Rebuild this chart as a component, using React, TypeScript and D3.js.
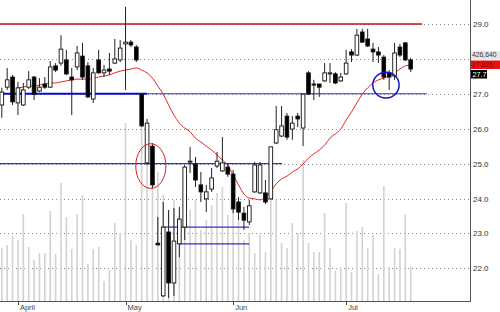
import React from "react";
import * as d3 from "d3";

// ---- data (daily bars, index 0..76) ----
const openP = [26.68,27.19,27.48,26.74,26.68,27.19,27.48,27.08,27.28,27.19, 27.80,27.88,27.97,27.48,27.77,28.08,27.80,26.85,27.97,27.60, 27.71,27.88,27.97,28.43,28.48,28.34,26.99,25.02,25.50,22.72, 21.21,23.04,21.58,22.70,23.18,25.05,24.99,24.39,23.99,24.27, 24.93,24.79,24.90,24.70,23.90,23.58,23.33,24.19,24.16,24.16, 23.99,25.59,25.79,26.36,25.99,26.36,26.02,27.60,27.28,27.28, 27.37,27.57,27.57,27.37,27.57,28.20,28.11,28.77,28.57,28.28, 28.20,28.05,27.60,27.51,28.34,28.46,27.97];
const highP = [27.17,27.74,27.54,27.34,27.31,27.65,27.51,27.45,27.48,27.94, 27.88,28.68,28.26,27.74,28.37,28.46,27.91,27.74,28.26,27.83, 28.17,28.57,28.54,29.49,28.54,28.40,27.02,26.28,25.59,23.47, 23.90,23.67,23.73,23.76,24.96,25.48,25.19,24.76,24.39,24.87, 25.33,25.76,25.02,24.82,24.04,23.76,23.96,25.05,25.05,24.53, 25.48,26.65,26.65,26.45,26.36,26.45,26.99,27.65,27.40,27.28, 27.88,27.88,27.62,27.60,28.26,28.28,28.86,28.86,28.86,28.46, 28.34,28.11,27.68,28.46,28.43,28.48,28.03];
const lowP = [26.31,27.11,26.68,26.39,26.65,27.14,26.82,27.05,27.14,27.17, 27.62,27.80,27.54,26.39,27.68,27.40,26.88,26.74,27.57,27.48, 27.54,27.85,27.91,27.11,28.34,27.91,26.05,24.96,24.30,22.67, 21.18,21.15,21.21,22.32,22.81,24.73,24.33,23.90,23.61,24.19, 24.87,24.76,24.62,23.58,23.38,23.10,23.24,24.16,24.13,23.84, 23.96,25.56,25.76,25.68,25.68,26.05,25.50,26.97,26.82,26.91, 27.34,27.31,27.28,27.34,27.54,27.91,28.08,28.46,28.34,27.91, 27.88,27.40,27.11,27.40,28.05,27.94,27.62];
const closeP = [27.05,27.40,26.77,27.17,27.11,27.40,26.99,27.19,27.19,27.77, 27.68,28.28,27.57,27.40,28.17,27.48,26.91,27.60,27.60,27.68, 27.65,28.00,28.31,28.48,28.40,27.97,26.08,26.16,24.39,22.67, 23.18,21.58,22.78,23.41,24.90,25.07,24.53,24.19,24.19,24.59, 25.07,25.02,24.70,23.70,23.61,23.38,23.79,24.96,24.96,23.90, 25.48,25.97,26.08,25.76,26.16,26.28,26.99,26.99,27.25,27.19, 27.60,27.60,27.31,27.48,27.88,28.11,28.68,28.48,28.37,28.20, 28.11,27.48,27.48,28.17,28.11,27.97,27.71];
const movingAvg = [null,null,null,27.17,27.19,27.22,27.22,27.25,27.28,27.31, 27.31,27.34,27.37,27.40,27.42,27.42,27.42,27.45,27.48,27.51, 27.54,27.60,27.65,27.68,27.71,27.74,27.68,27.60,27.45,27.22, 26.99,26.68,26.39,26.16,26.02,25.91,25.73,25.62,25.50,25.39, 25.25,25.10,24.96,24.67,24.39,24.13,24.01,23.99,23.96,24.04, 24.21,24.42,24.56,24.64,24.76,24.85,24.99,25.16,25.28,25.39, 25.53,25.73,25.85,25.99,26.25,26.48,26.74,26.99,27.17,27.31, 27.40,27.45,27.51,27.60,27.71,27.80,27.825];
// volume in thousands of shares
const volume = [662,700,812,762,1087,675,512,600,600,1125, 587,1475,1050,650,1087,1325,462,650,675,250, 387,975,850,2225,762,700,2225,2200,1887,1612, 1325,1137,1262,1075,1575,1137,1262,887,1012,1200, 1350,1425,1075,1262,1012,762,850,600,825,612, 1475,1262,725,662,975,850,1762,725,612,612, 1100,662,375,425,1225,362,875,925,662,825, 337,1437,425,662,650,1087,426.64];

const monthLabels = ["April", "May", "Jun", "Jul"];
const monthBars = [3, 23, 43, 64];
const priceTicks = [22, 23, 24, 25, 26, 27, 28, 29];

// annotations: horizontal levels (price, from bar, to bar)
const resistanceLevels = [29.0];
const resistanceFrom = [-0.35];
const resistanceTo = [78.1];
const supportLevels = [27.0, 27.0, 25.0, 23.18, 22.7];
const supportFrom = [-0.35, 27, -0.35, 30, 33.1];
const supportTo = [27, 79, 52.1, 46, 46];
// ellipse highlights (center bar, center price, half-width in bars, half-height in price)
const redMarkBar = [27.7], redMarkPrice = [24.93], redMarkBars = [2.8], redMarkSpan = [0.64];
const blueMarkBar = [71.4], blueMarkPrice = [27.25], blueMarkBars = [2.45], blueMarkSpan = [0.37];

export default function App() {
  const W = 500, H = 312;
  const axisX = 470, axisY = 301;
  const n = closeP.length;
  const x = d3.scaleLinear().domain([0, n - 1]).range([1.8, 410.7]);
  const y = d3.scaleLinear().domain([22, 29]).range([268.3, 24]);
  const yv = d3.scaleLinear().domain([0, 2500]).range([axisY, 101]);
  const idx = d3.range(n);
  const maLine = d3
    .line<number>()
    .defined((i) => movingAvg[i] != null)
    .x((i) => x(i))
    .y((i) => y(movingAvg[i] as number))
    .curve(d3.curveMonotoneX)(idx);
  const bw = x(1) - x(0);
  const font = "'Liberation Sans', Arial, sans-serif";
  const lastClose = closeP[n - 1];
  const lastMa = movingAvg[n - 1] as number;
  const lastVol = volume[n - 1];
  // value tags occupy y 51..79 on the axis; tick labels under them are hidden
  const tagTop = 51, tagBottom = 79;
  const visibleTicks = priceTicks.filter((t) => y(t) + 4 < tagTop || y(t) - 5 > tagBottom);

  return (
    <svg width={W} height={H} style={{ position: "absolute", left: 0, top: 0, background: "#fff" }}>
      <rect x={0} y={0} width={W} height={H} fill="#fff" />
      {/* grid */}
      {priceTicks.map((t) => (
        <line key={"g" + t} x1={0} x2={axisX} y1={Math.round(y(t)) + 0.5} y2={Math.round(y(t)) + 0.5}
          stroke="#8a8a8a" strokeWidth={1} strokeDasharray="1,3" />
      ))}
      {/* volume */}
      {idx.map((i) => (
        <line key={"v" + i} x1={x(i)} x2={x(i)} y1={axisY} y2={yv(volume[i])} stroke="#d2d2d2" strokeWidth={1.6} />
      ))}
      {/* horizontal levels */}
      {resistanceLevels.map((p, k) => (
        <line key={"r" + k} x1={x(resistanceFrom[k])} x2={x(resistanceTo[k])} y1={y(p)} y2={y(p)} stroke="#c81010" strokeWidth={1.6} />
      ))}
      {supportLevels.map((p, k) => (
        <line key={"s" + k} x1={x(supportFrom[k])} x2={x(supportTo[k])} y1={y(p)} y2={y(p)}
          stroke={k === 0 ? "#0a0ad0" : "#3030c8"} strokeWidth={k === 0 ? 2 : 1.1} />
      ))}
      {/* moving average */}
      <path d={maLine || ""} fill="none" stroke="#e02828" strokeWidth={1} />
      {/* candles */}
      {idx.map((i) => {
        const cx = x(i);
        const up = closeP[i] >= openP[i];
        const top = y(Math.max(openP[i], closeP[i]));
        const bot = y(Math.min(openP[i], closeP[i]));
        const h = Math.max(bot - top, 1);
        return (
          <g key={"c" + i}>
            <line x1={cx} x2={cx} y1={y(highP[i])} y2={y(lowP[i])} stroke="#222" strokeWidth={1} />
            <rect x={cx - bw * 0.34} y={top} width={bw * 0.68} height={h}
              fill={up ? "#fff" : "#000"} stroke="#111" strokeWidth={0.9} />
          </g>
        );
      })}
      {/* ellipse marks */}
      {redMarkBar.map((b, k) => (
        <ellipse key={"re" + k} cx={x(b)} cy={y(redMarkPrice[k])} rx={x(redMarkBars[k]) - x(0)}
          ry={y(0) - y(redMarkSpan[k])} fill="none" stroke="#d42020" strokeWidth={1} />
      ))}
      {blueMarkBar.map((b, k) => (
        <ellipse key={"be" + k} cx={x(b)} cy={y(blueMarkPrice[k])} rx={x(blueMarkBars[k]) - x(0)}
          ry={y(0) - y(blueMarkSpan[k])} fill="none" stroke="#1414c8" strokeWidth={1.5} />
      ))}
      {/* axes */}
      <line x1={axisX + 0.5} x2={axisX + 0.5} y1={0} y2={axisY} stroke="#555" strokeWidth={1} />
      <line x1={0} x2={axisX + 1} y1={axisY + 0.5} y2={axisY + 0.5} stroke="#555" strokeWidth={1} />
      {visibleTicks.map((t) => (
        <text key={"t" + t} x={473} y={y(t) + 3} fontSize={8} fontFamily={font} fill="#333">
          {t.toFixed(1)}
        </text>
      ))}
      {monthBars.map((b, k) => (
        <g key={"m" + k}>
          <line x1={Math.round(x(b)) + 0.5} x2={Math.round(x(b)) + 0.5} y1={axisY + 1} y2={axisY + 4} stroke="#444" />
          <text x={x(b) + 2} y={310} fontSize={7.5} fontFamily={font} fill="#444">{monthLabels[k]}</text>
        </g>
      ))}
      {/* last value tags */}
      <rect x={471} y={51} width={29} height={8.5} fill="#e6e6e6" />
      <text x={472} y={57.4} fontSize={6.8} fontFamily={font} fill="#333">{Math.round(lastVol * 1000).toLocaleString("en-US")}</text>
      <rect x={471} y={60.5} width={29} height={8.5} fill="#e81010" />
      <text x={472} y={67.2} fontSize={6.8} fontFamily={font} fill="#9a0000">{lastMa.toFixed(3)}</text>
      <rect x={471} y={70} width={16} height={8.5} fill="#000" />
      <text x={472.5} y={76.8} fontSize={7.2} fontFamily={font} fill="#fff">{lastClose.toFixed(1)}</text>
    </svg>
  );
}
